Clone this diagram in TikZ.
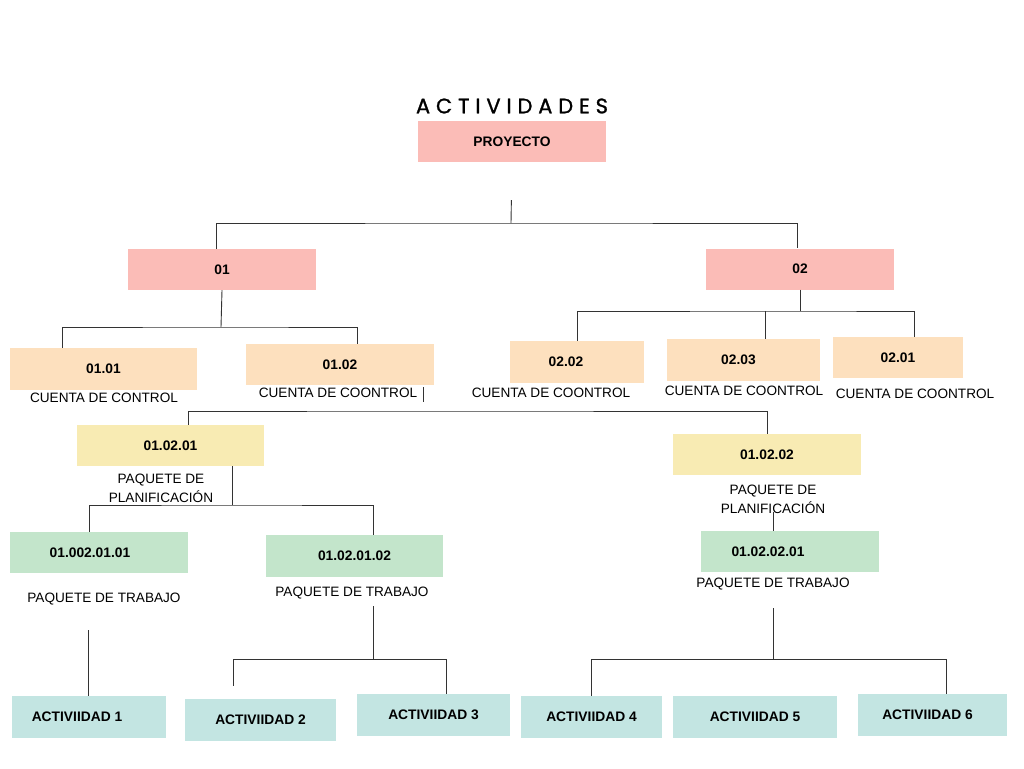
\documentclass[tikz,border=0pt]{standalone}
\usepackage{fontspec}
\setmainfont{Liberation Sans}
\newfontfamily\titulofont[LetterSpace=28,FakeBold=1.2]{Poppins}
\definecolor{rosa}{HTML}{FBBCB7}
\definecolor{durazno}{HTML}{FDE0BE}
\definecolor{amarillo}{HTML}{F8EBB3}
\definecolor{verde}{HTML}{C3E5CB}
\definecolor{turquesa}{HTML}{C3E5E2}
\definecolor{trazo}{HTML}{333333}
\tikzset{
  caja/.style={rectangle,inner sep=0pt,minimum height=41pt,minimum width=#1,
    font=\bfseries\fontsize{13.8}{16}\selectfont,text=black},
  caja/.default=188pt,
  nota/.style={inner sep=0pt,align=center,font=\fontsize{13.6}{19}\selectfont},
  linea/.style={draw=trazo,line width=0.9pt}
}
\begin{document}
\begin{tikzpicture}[x=1pt,y=-1pt]
\useasboundingbox (0,0) rectangle (1024,768);

\node (titulo) at (512,106) {\titulofont\fontsize{21}{24}\selectfont ACTIVIDADES};
\node[caja,fill=rosa] (proy) at (512,141.5) {PROYECTO};

\node[caja,fill=rosa] (n01) at (222,269.5) {01};
\node[caja,fill=rosa] (n02) at (800,269) {02};

\node[caja=187pt,fill=durazno,minimum height=42pt] (n0101) at (103.5,369) {01.01};
\node[nota] (c0101) at (104,398) {CUENTA DE CONTROL};
\node[caja,fill=durazno] (n0102) at (340,364.5) {01.02};
\node[nota] (c0102) at (338,393) {CUENTA DE COONTROL};
\node[caja=134pt,fill=durazno,minimum height=42pt] (n0202) at (577,362) {\hspace*{-22pt}02.02};
\node[nota] (c0202) at (551,393) {CUENTA DE COONTROL};
\node[caja=153pt,fill=durazno,minimum height=42pt] (n0203) at (743.5,360) {\hspace*{-10pt}02.03};
\node[nota] (c0203) at (744,391) {CUENTA DE COONTROL};
\node[caja=130pt,fill=durazno] (n0201) at (898,357.5) {02.01};
\node[nota] (c0201) at (915,394) {CUENTA DE COONTROL};

\node[caja=187pt,fill=amarillo] (n010201) at (170.5,445.5) {01.02.01};
\node[nota] (p010201) at (161,488.5) {PAQUETE DE\\PLANIFICACIÓN};
\node[caja,fill=amarillo] (n010202) at (767,454.5) {01.02.02};
\node[nota] (p010202) at (773,499.5) {PAQUETE DE\\PLANIFICACIÓN};

\node[caja=178pt,fill=verde] (n01002) at (99,552.5) {\hspace*{-18pt}01.002.01.01};
\node[nota] (t01002) at (104,599) {PAQUETE DE TRABAJO};
\node[caja=177pt,fill=verde,minimum height=42pt] (n01020102) at (354.5,556) {01.02.01.02};
\node[nota] (t01020102) at (352,593) {PAQUETE DE TRABAJO};
\node[caja=178pt,fill=verde] (n01020201) at (790,551.5) {\hspace*{-44pt}01.02.02.01};
\node[nota] (t01020201) at (773,584) {PAQUETE DE TRABAJO};

\node[caja=154pt,fill=turquesa,minimum height=42pt] (act1) at (89,717) {\hspace*{-24pt}ACTIVIIDAD 1};
\node[caja=151pt,fill=turquesa,minimum height=42pt] (act2) at (260.5,720) {ACTIVIIDAD 2};
\node[caja=153pt,fill=turquesa,minimum height=42pt] (act3) at (433.5,715) {ACTIVIIDAD 3};
\node[caja=141pt,fill=turquesa,minimum height=42pt] (act4) at (591.5,717) {ACTIVIIDAD 4};
\node[caja=164pt,fill=turquesa,minimum height=42pt] (act5) at (755,717) {ACTIVIIDAD 5};
\node[caja=149pt,fill=turquesa,minimum height=42pt] (act6) at (932.5,715) {\hspace*{-10pt}ACTIVIIDAD 6};

\coordinate (j1) at (511,223);
\coordinate (j2) at (221,327);
\coordinate (j3) at (800,311);
\coordinate (j4) at (423,411);
\coordinate (j5) at (232,505);
\coordinate (j6) at (373,659);
\coordinate (j7) at (773,659);

\draw[linea,shorten <=38pt] (proy.south) -- (j1);
\draw[linea] ([xshift=-6pt]n01.north) |- (j1) -| ([xshift=-3pt]n02.north);

\draw[linea] (n01.south) -- (j2);
\draw[linea] ([xshift=-41.5pt]n0101.north) |- (j2) -| ([xshift=17pt]n0102.north);
\draw[linea] (n02.south) -- (j3);
\draw[linea] (n0202.north) |- (j3) -| ([xshift=16pt]n0201.north);
\draw[linea] ([xshift=21.5pt]n0203.north) -- ([xshift=21.5pt]n0203.north |- j3);

\draw[linea,shorten <=2pt,shorten >=9pt] ([xshift=83pt]n0102.south) -- (j4);
\draw[linea] ([xshift=17.5pt]n010201.north) |- (j4) -| (n010202.north);

\draw[linea] ([xshift=61.5pt]n010201.south) -- (j5);
\draw[linea] ([xshift=-10pt]n01002.north) |- (j5) -| ([xshift=18.5pt]n01020102.north);
\draw[linea,shorten <=37pt] ([xshift=6pt]n010202.south) -- ([xshift=-17pt]n01020201.north);

\draw[linea,shorten <=57pt] ([xshift=-11pt]n01002.south) -- ([xshift=-1pt]act1.north);
\draw[linea,shorten <=29pt] ([xshift=18.5pt]n01020102.south) -- (j6);
\draw[linea,shorten >=13pt] (j6) -| ([xshift=-27.5pt]act2.north);
\draw[linea] (j6) -| ([xshift=12.5pt]act3.north);
\draw[linea,shorten <=36pt] ([xshift=-17pt]n01020201.south) -- (j7);
\draw[linea] (act4.north) |- (j7) -| ([xshift=13.5pt]act6.north);
\end{tikzpicture}
\end{document}
